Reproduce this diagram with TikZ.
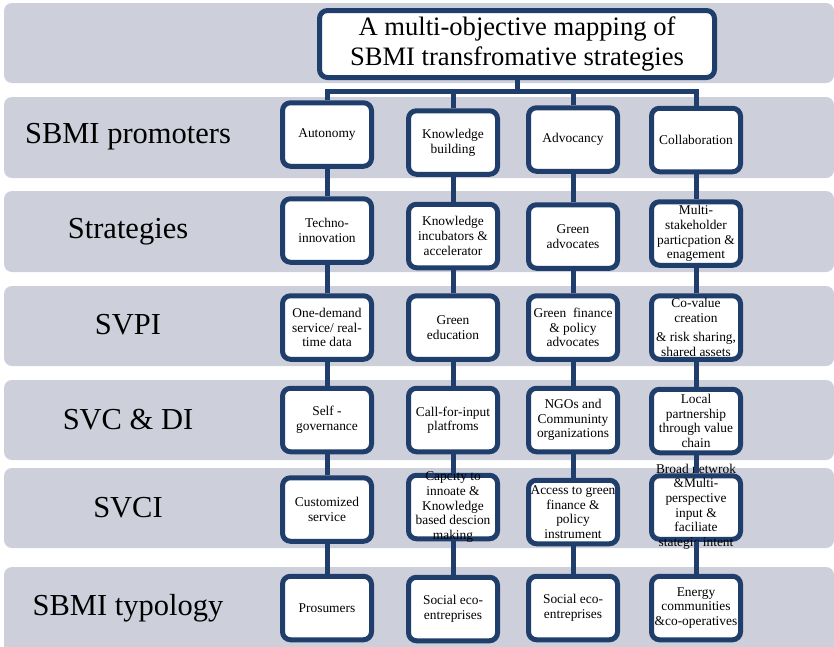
\documentclass[tikz,border=0pt]{standalone}
\usepackage{fontspec}
\setmainfont{Liberation Serif}
\definecolor{navy}{HTML}{1F3E6C}
\definecolor{bandgray}{HTML}{CDD0DA}
\tikzset{
  cell/.style={draw=navy, line width=5pt, rounded corners=8pt, fill=white,
    minimum width=89pt, minimum height=63.5pt, inner sep=0pt},
  celltext/.style={align=center, font=\fontsize{13.4}{14.6}\selectfont, inner sep=0pt},
  titlebox/.style={draw=navy, line width=5pt, rounded corners=8pt, fill=white,
    minimum width=395pt, minimum height=67pt, align=center,
    font=\fontsize{26.6}{30}\selectfont},
  rowlabel/.style={font=\fontsize{30.5}{33}\selectfont, inner sep=0pt},
  bandbox/.style={fill=bandgray, rounded corners=8pt},
  link/.style={draw=navy, line width=5pt}
}
\begin{document}
\begin{tikzpicture}[x=1pt,y=-1pt]
\useasboundingbox (0,0) rectangle (834,646);
% bands
\fill[bandbox] (4,3) rectangle (834,83);
\fill[bandbox] (4,97) rectangle (834,178);
\fill[bandbox] (4,191) rectangle (834,272);
\fill[bandbox] (4,286) rectangle (834,366);
\fill[bandbox] (4,380) rectangle (834,460);
\fill[bandbox] (4,468) rectangle (834,548);
\fill[bandbox] (4,567) rectangle (834,656);
% row labels
\node[rowlabel] (l1) at (128,137) {SBMI promoters};
\node[rowlabel] (l2) at (128,232) {Strategies};
\node[rowlabel] (l3) at (128,325) {SVPI};
\node[rowlabel] (l4) at (128,420) {SVC \& DI};
\node[rowlabel] (l5) at (128,508) {SVCI};
\node[rowlabel] (l6) at (128,608) {SBMI typology};
% title
\node[titlebox] (title) at (517,44) {A multi-objective mapping of\\SBMI transfromative strategies};
% boxes
\node[cell] (c11) at (327,134.5) {};
\node[cell] (c12) at (453,142.5) {};
\node[cell] (c13) at (573,139.5) {};
\node[cell] (c14) at (696,140) {};
\node[cell] (c21) at (327,230.5) {};
\node[cell] (c22) at (453,236) {};
\node[cell] (c23) at (573,236.5) {};
\node[cell] (c24) at (696,233.5) {};
\node[cell] (c31) at (327,327.5) {};
\node[cell] (c32) at (453,327.5) {};
\node[cell] (c33) at (573,327.5) {};
\node[cell] (c34) at (696,327.5) {};
\node[cell] (c41) at (327,420) {};
\node[cell] (c42) at (453,420) {};
\node[cell] (c43) at (573,420) {};
\node[cell] (c44) at (696,421) {};
\node[cell] (c51) at (327,509.5) {};
\node[cell] (c52) at (453,507) {};
\node[cell] (c53) at (573,512) {};
\node[cell] (c54) at (696,507.5) {};
\node[cell] (c61) at (327,608) {};
\node[cell] (c62) at (453,609) {};
\node[cell] (c63) at (573,608) {};
\node[cell] (c64) at (696,608) {};
% texts
\node[celltext] (t11) at (c11) {Autonomy};
\node[celltext] (t12) at (c12) {Knowledge\\building};
\node[celltext] (t13) at (c13) {Advocancy};
\node[celltext] (t14) at (c14) {Collaboration};
\node[celltext] (t21) at (c21) {Techno-\\innovation};
\node[celltext] (t22) at (c22) {Knowledge\\incubators \&\\accelerator};
\node[celltext] (t23) at (c23) {Green\\advocates};
\node[celltext] (t24) at (c24) {Multi-\\stakeholder\\particpation \&\\enagement};
\node[celltext] (t31) at (c31) {One-demand\\service/ real-\\time data};
\node[celltext] (t32) at (c32) {Green\\education};
\node[celltext] (t33) at (c33) {Green\ \ finance\\\& policy\\advocates};
\node[celltext] (t34) at (c34) {Co-value\\creation\\[5pt]\& risk sharing,\\shared assets};
\node[celltext] (t41) at (c41) {Self -\\governance};
\node[celltext] (t42) at (c42) {Call-for-input\\platfroms};
\node[celltext] (t43) at (c43) {NGOs and\\Communinty\\organizations};
\node[celltext] (t44) at (c44) {Local\\partnership\\through value\\chain};
\node[celltext] (t51) at (c51) {Customized\\service};
\node[celltext] (t52) at (c52) {Capcity to\\innoate \&\\Knowledge\\based descion\\making};
\node[celltext] (t53) at (c53) {Access to green\\finance \&\\policy\\instrument};
\node[celltext] (t54) at ([yshift=1pt]c54.center) {Broad netwrok\\\&Multi-\\perspective\\input \&\\faciliate\\stategic intent};
\node[celltext] (t61) at (c61) {Prosumers};
\node[celltext] (t62) at (c62) {Social eco-\\entreprises};
\node[celltext] (t63) at (c63) {Social eco-\\entreprises};
\node[celltext] (t64) at (c64) {Energy\\communities\\\&co-operatives};
% connectors
\coordinate (bus) at (517,91);
\draw[link] (title.south) -- (bus);
\draw[link] (c11.north) |- (bus) -| (c14.north);
\draw[link] (c12.north) -- (c12.north |- bus);
\draw[link] (c13.north) -- (c13.north |- bus);
\foreach \c in {1,2,3,4}{
  \draw[link] (c1\c.south) -- (c2\c.north);
  \draw[link] (c2\c.south) -- (c3\c.north);
  \draw[link] (c3\c.south) -- (c4\c.north);
  \draw[link] (c4\c.south) -- (c5\c.north);
  \draw[link] (c5\c.south) -- (c6\c.north);
}
\end{tikzpicture}
\end{document}
